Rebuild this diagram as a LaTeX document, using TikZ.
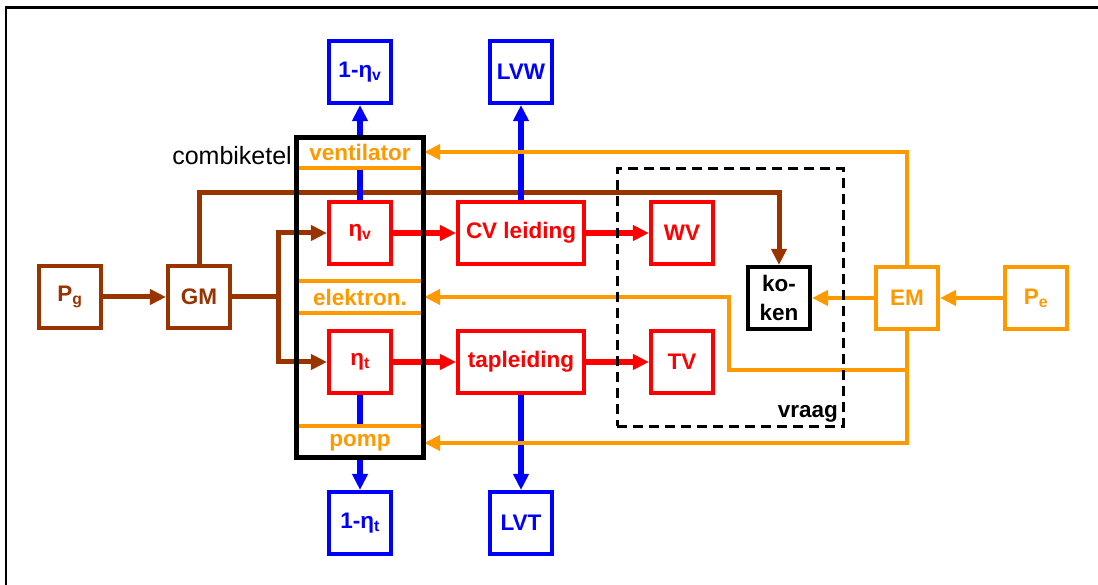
\documentclass[tikz,border=0pt]{standalone}
\usepackage{fontspec}
\setmainfont{Liberation Sans}
\usetikzlibrary{arrows.meta}
\definecolor{brn}{HTML}{993300}
\definecolor{org}{HTML}{FF9900}
\definecolor{rd}{HTML}{FF0000}
\definecolor{bl}{HTML}{0000FF}
\newcommand\myfb{\fontsize{22.5}{29}\selectfont\bfseries}
\tikzset{
  bx/.style={draw, line width=3.6pt, minimum width=62.5pt, minimum height=62.5pt, inner sep=0pt, fill=white, font=\myfb, align=center},
  wbx/.style={bx, minimum width=126.5pt, minimum height=61.5pt},
  cb/.style={draw=brn, text=brn},
  cr/.style={draw=rd, text=rd},
  cu/.style={draw=bl, text=bl},
  co/.style={draw=org, text=org},
  ck/.style={draw=black, text=black},
  tip/.style={-{Triangle[length=16pt,width=15pt]}},
  lbrn/.style={draw=brn, line width=5pt},
  lred/.style={draw=rd, line width=5.2pt},
  lblu/.style={draw=bl, line width=5.8pt},
  lorg/.style={draw=org, line width=4.8pt},
  band/.style={fill=white, minimum width=128pt, inner sep=0pt, text=org, font=\myfb},
  sep/.style={draw=org, line width=3.6pt},
}
\begin{document}
\begin{tikzpicture}[x=1pt,y=-1pt]
\useasboundingbox (0,0) rectangle (1098,585);
% outer frame
\draw[line width=2.6pt] (6,585) -- (6,7.5) -- (1098,7.5);

% boxes
\node[bx,cb] (Pg) at (70,297) {P\textsubscript{g}};
\node[bx,cb] (GM) at (199,297) {GM};
\node[bx,cr] (ev) at (360,233) {η\textsubscript{v}};
\node[bx,cr] (et) at (360,362) {η\textsubscript{t}};
\node[bx,cu] (oev) at (360,72) {1-η\textsubscript{v}};
\node[bx,cu] (oet) at (360,523) {1-η\textsubscript{t}};
\node[wbx,cr] (cv) at (521,233) {CV leiding};
\node[wbx,cr] (tap) at (521,362) {tapleiding};
\node[bx,cu] (lvw) at (521,72) {LVW};
\node[bx,cu] (lvt) at (521,523) {LVT};
\node[bx,cr] (wv) at (682,233) {WV};
\node[bx,cr] (tv) at (682,362) {TV};
\node[bx,ck] (kok) at (779,298) {ko-\\ken};
\node[bx,co] (em) at (907,298) {EM};
\node[bx,co] (pe) at (1036,298) {P\textsubscript{e}};

% helper coordinates
\coordinate (j) at (278,297);
\coordinate (topy) at (0,193);
\coordinate (br) at (907,370);
\coordinate (bend) at (729,370);

% brown connectors
\draw[lbrn,tip] (Pg) -- (GM);
\draw[lbrn] (GM.east) -- (j);
\draw[lbrn,tip] (j) |- (ev.west);
\draw[lbrn,tip] (j) |- (et.west);
\draw[lbrn,tip] (GM.north) |- (kok.north |- topy) -- (kok.north);

% blue connectors
\draw[lblu,tip] (ev) -- (oev);
\draw[lblu,tip] (et) -- (oet);
\draw[lblu,tip] (cv) -- (lvw);
\draw[lblu,tip] (tap) -- (lvt);

% red connectors
\draw[lred,tip] (ev) -- (cv);
\draw[lred,tip] (et) -- (tap);
\draw[lred,tip] (cv) -- (wv);
\draw[lred,tip] (tap) -- (tv);

% bands inside combiketel
\node[band, minimum height=30pt] (vent) at (360,152) {ventilator};
\node[band, minimum height=30pt] (elek) at (360,297) {elektron.};
\node[band, minimum height=32pt] (pomp) at (360,443) {pomp};

% orange connectors
\draw[lorg,tip] (pe) -- (em);
\draw[lorg,tip] (em) -- (kok);
\draw[lorg,tip] (em.north) |- (vent.east);
\draw[lorg,tip] (em.south) |- (pomp.east);
\draw[lorg,tip] (br) -- (bend) |- (elek.east);

% separators
\draw[sep] (296,168) -- (424,168);
\draw[sep] (296,281) -- (424,281);
\draw[sep] (296,313) -- (424,313);
\draw[sep] (296,426) -- (424,426);

% combiketel frame
\node[draw, line width=5pt, minimum width=127pt, minimum height=320pt, inner sep=0pt] (kb) at (360,297.5) {};
\node[anchor=base east, inner sep=0pt, font=\fontsize{25}{29}\selectfont] (kbl) at (292,165) {combiketel};

% vraag dashed box
\node[draw, dash pattern=on 10pt off 6pt, line width=3pt, minimum width=226pt, minimum height=257pt, inner sep=0pt] (vr) at (730,297.5) {};
\node[anchor=base east, inner sep=0pt, font=\myfb] (vrl) at (838,417) {vraag};
\end{tikzpicture}
\end{document}
